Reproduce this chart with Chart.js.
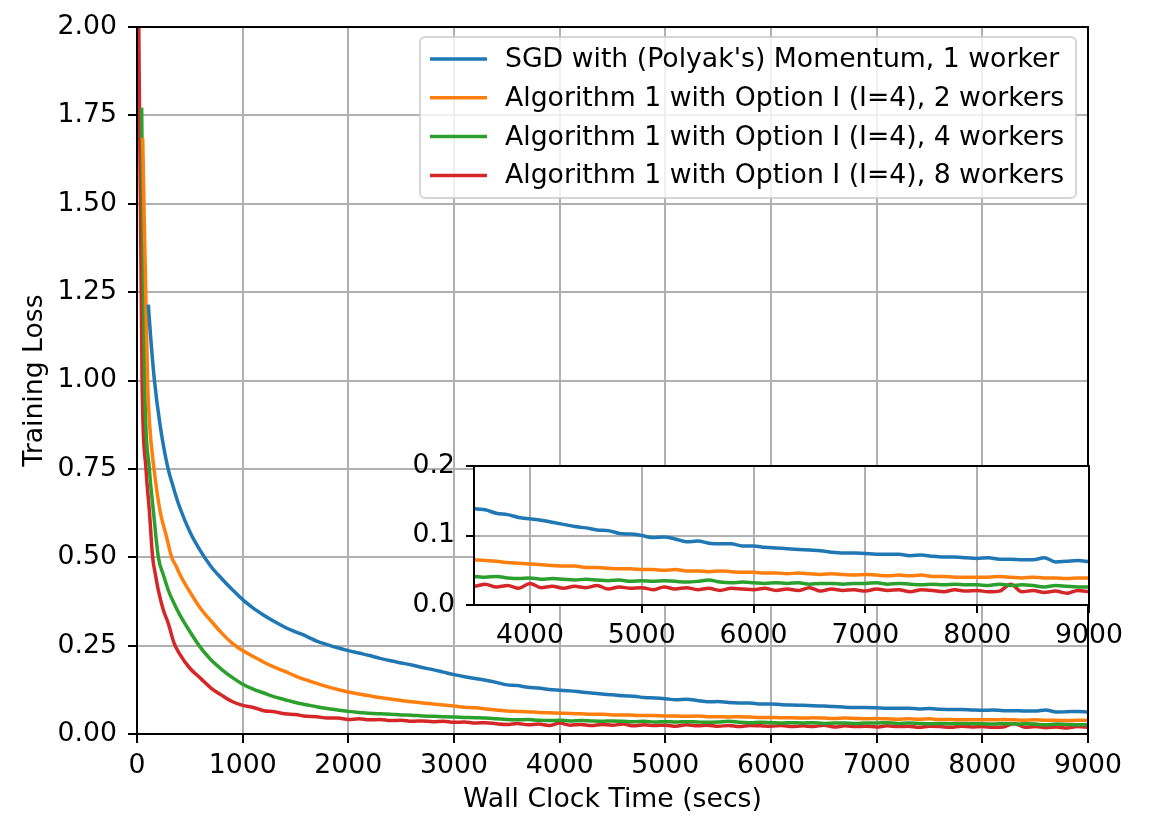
<!DOCTYPE html>
<html>
<head>
<meta charset="utf-8">
<script src="https://cdn.jsdelivr.net/npm/chart.js@4.4.1/dist/chart.umd.min.js"></script>
<style>
  html, body { margin: 0; padding: 0; background: #fff; }
  #wrap { position: relative; width: 1154px; height: 816px; }
  #wrap canvas { position: absolute; left: 0; top: 0; }
</style>
</head>
<body>
<div id="wrap">
  <canvas id="mainChart" width="1154" height="816"></canvas>
  <canvas id="insetChart" width="1154" height="816"></canvas>
</div>
<script>
// series names and colours
var seriesLabels = [
    "SGD with (Polyak's) Momentum, 1 worker",
    "Algorithm 1 with Option I (I=4), 2 workers",
    "Algorithm 1 with Option I (I=4), 4 workers",
    "Algorithm 1 with Option I (I=4), 8 workers"
];
var seriesColors = ['#1f77b4', '#ff7f0e', '#2ca02c', '#d62728'];

// tick labels
var xTicks = [0, 1000, 2000, 3000, 4000, 5000, 6000, 7000, 8000, 9000];
var yTicks = [0, 0.25, 0.5, 0.75, 1.0, 1.25, 1.5, 1.75, 2.0];
var insetXTicks = [4000, 5000, 6000, 7000, 8000, 9000];
var insetYTicks = [0, 0.1, 0.2];

// first seconds of each run (own time stamps)
var blueHeadT   = [107, 130, 165, 218, 287, 350];
var blueHeadL   = [1.215, 1.12, 1.00, 0.875, 0.760, 0.692];
var orangeHeadT = [54, 100, 117, 161, 218, 281, 328, 370];
var orangeHeadL = [1.687, 1.00, 0.885, 0.750, 0.631, 0.556, 0.500, 0.475];
var greenHeadT  = [44, 72, 117, 155, 202, 250, 297, 350];
var greenHeadL  = [1.772, 1.00, 0.750, 0.631, 0.500, 0.450, 0.406, 0.370];
var redHeadT    = [10, 48, 85, 117, 148, 175, 202, 250, 297, 350];
var redHeadL    = [2.25, 1.00, 0.750, 0.631, 0.500, 0.450, 0.406, 0.350, 0.312, 0.258];

// shared wall clock time after the start
var time = [
    400, 500, 600, 700, 800, 900, 1000, 1100, 1200, 1300,
    1400, 1500, 1600, 1700, 1800, 1900, 2000, 2100, 2200, 2300,
    2400, 2500, 2600, 2700, 2800, 2900, 3000, 3100, 3200, 3300,
    3400, 3500, 3600, 3700, 3800, 3900, 4000, 4100, 4200, 4300,
    4400, 4500, 4600, 4700, 4800, 4900, 5000, 5100, 5200, 5300,
    5400, 5500, 5600, 5700, 5800, 5900, 6000, 6100, 6200, 6300,
    6400, 6500, 6600, 6700, 6800, 6900, 7000, 7100, 7200, 7300,
    7400, 7500, 7600, 7700, 7800, 7900, 8000, 8100, 8200, 8300,
    8400, 8500, 8600, 8700, 8800, 8900, 9000
];

var blueLoss = [
    0.645, 0.572, 0.518, 0.474, 0.440, 0.409, 0.380, 0.356, 0.336, 0.318,
    0.302, 0.289, 0.277, 0.263, 0.253, 0.244, 0.236, 0.229, 0.222, 0.214,
    0.207, 0.201, 0.195, 0.188, 0.182, 0.175, 0.168, 0.162, 0.157, 0.152,
    0.146, 0.139, 0.137, 0.132, 0.130, 0.126, 0.124, 0.122, 0.119, 0.116,
    0.113, 0.111, 0.108, 0.107, 0.103, 0.102, 0.100, 0.097, 0.098, 0.095,
    0.091, 0.092, 0.089, 0.088, 0.088, 0.085, 0.085, 0.083, 0.082, 0.081,
    0.080, 0.079, 0.078, 0.076, 0.075, 0.075, 0.074, 0.073, 0.073, 0.073,
    0.071, 0.072, 0.070, 0.069, 0.069, 0.068, 0.067, 0.068, 0.066, 0.066,
    0.065, 0.065, 0.068, 0.062, 0.063, 0.064, 0.062
];
var orangeLoss = [
    0.455, 0.402, 0.356, 0.320, 0.286, 0.257, 0.236, 0.219, 0.203, 0.189,
    0.177, 0.164, 0.153, 0.143, 0.134, 0.126, 0.119, 0.113, 0.108, 0.103,
    0.099, 0.095, 0.091, 0.088, 0.085, 0.082, 0.079, 0.076, 0.074, 0.071,
    0.068, 0.065, 0.064, 0.063, 0.061, 0.060, 0.059, 0.058, 0.057, 0.056,
    0.056, 0.054, 0.054, 0.053, 0.052, 0.052, 0.051, 0.051, 0.050, 0.051,
    0.049, 0.049, 0.048, 0.049, 0.048, 0.047, 0.047, 0.046, 0.046, 0.045,
    0.046, 0.045, 0.044, 0.045, 0.044, 0.043, 0.044, 0.043, 0.042, 0.043,
    0.042, 0.043, 0.041, 0.041, 0.040, 0.040, 0.040, 0.040, 0.041, 0.040,
    0.039, 0.040, 0.039, 0.039, 0.038, 0.039, 0.039
];
var greenLoss = [
    0.340, 0.290, 0.245, 0.210, 0.183, 0.160, 0.141, 0.127, 0.116, 0.105,
    0.097, 0.089, 0.083, 0.077, 0.072, 0.068, 0.064, 0.061, 0.059, 0.057,
    0.056, 0.054, 0.053, 0.051, 0.050, 0.049, 0.048, 0.047, 0.046, 0.045,
    0.043, 0.041, 0.040, 0.041, 0.039, 0.038, 0.039, 0.037, 0.038, 0.037,
    0.036, 0.037, 0.036, 0.035, 0.036, 0.034, 0.035, 0.034, 0.035, 0.034,
    0.033, 0.034, 0.036, 0.033, 0.032, 0.033, 0.032, 0.031, 0.032, 0.031,
    0.032, 0.030, 0.031, 0.031, 0.030, 0.031, 0.031, 0.032, 0.030, 0.031,
    0.030, 0.029, 0.030, 0.029, 0.030, 0.029, 0.029, 0.028, 0.030, 0.028,
    0.029, 0.028, 0.026, 0.028, 0.027, 0.026, 0.026
];
var redLoss = [
    0.228, 0.186, 0.158, 0.130, 0.110, 0.092, 0.081, 0.075, 0.066, 0.063,
    0.057, 0.055, 0.050, 0.049, 0.045, 0.045, 0.041, 0.043, 0.040, 0.041,
    0.038, 0.039, 0.036, 0.037, 0.035, 0.036, 0.033, 0.034, 0.031, 0.032,
    0.029, 0.027, 0.030, 0.026, 0.028, 0.024, 0.031, 0.025, 0.027, 0.024,
    0.027, 0.025, 0.028, 0.023, 0.026, 0.024, 0.025, 0.022, 0.026, 0.023,
    0.025, 0.022, 0.024, 0.021, 0.024, 0.023, 0.022, 0.024, 0.021, 0.023,
    0.021, 0.025, 0.020, 0.023, 0.021, 0.022, 0.020, 0.023, 0.021, 0.022,
    0.019, 0.022, 0.021, 0.019, 0.022, 0.020, 0.021, 0.019, 0.020, 0.030,
    0.019, 0.021, 0.018, 0.020, 0.017, 0.021, 0.019
];

Chart.defaults.font.family = "'DejaVu Sans', sans-serif";
Chart.defaults.font.size = 26.7;
Chart.defaults.color = '#000';

function points(headT, headL, tail) {
    var p = headT.map(function(t, i) { return {x: t, y: headL[i]}; });
    return p.concat(time.map(function(t, i) { return {x: t, y: tail[i]}; }));
}

function makeDatasets() {
    var heads = [[blueHeadT, blueHeadL, blueLoss], [orangeHeadT, orangeHeadL, orangeLoss],
                 [greenHeadT, greenHeadL, greenLoss], [redHeadT, redHeadL, redLoss]];
    return heads.map(function(h, i) {
        return {
            label: seriesLabels[i],
            data: points(h[0], h[1], h[2]),
            borderColor: seriesColors[i],
            backgroundColor: seriesColors[i],
            borderWidth: 3.5,
            pointRadius: 0,
            fill: false,
            cubicInterpolationMode: 'monotone',
            clip: 0
        };
    });
}

// black box round the plot area
var framePlugin = {
    id: 'frame',
    afterDatasetsDraw: function(chart) {
        var a = chart.chartArea, ctx = chart.ctx;
        ctx.save();
        ctx.strokeStyle = '#000';
        ctx.lineWidth = 2;
        ctx.strokeRect(a.left, a.top, a.right - a.left, a.bottom - a.top);
        ctx.restore();
    }
};

// matplotlib style legend, upper right
var legendPlugin = {
    id: 'boxLegend',
    afterDraw: function(chart) {
        var ctx = chart.ctx;
        var x0 = 420, y0 = 37, w = 656, h = 161, r = 5;
        ctx.save();
        ctx.beginPath();
        ctx.moveTo(x0 + r, y0);
        ctx.arcTo(x0 + w, y0, x0 + w, y0 + h, r);
        ctx.arcTo(x0 + w, y0 + h, x0, y0 + h, r);
        ctx.arcTo(x0, y0 + h, x0, y0, r);
        ctx.arcTo(x0, y0, x0 + w, y0, r);
        ctx.closePath();
        ctx.fillStyle = 'rgba(255,255,255,0.8)';
        ctx.fill();
        ctx.strokeStyle = 'rgba(204,204,204,0.8)';
        ctx.lineWidth = 2;
        ctx.stroke();
        ctx.font = "26.7px 'DejaVu Sans'";
        ctx.textBaseline = 'middle';
        ctx.textAlign = 'left';
        chart.data.datasets.forEach(function(ds, i) {
            var y = 59 + i * 38.8;
            ctx.strokeStyle = ds.borderColor;
            ctx.lineWidth = 3.5;
            ctx.beginPath();
            ctx.moveTo(430, y);
            ctx.lineTo(487, y);
            ctx.stroke();
            ctx.fillStyle = '#000';
            ctx.fillText(ds.label, 505, y + 1);
        });
        ctx.restore();
    }
};

// white face behind the inset
var insetFacePlugin = {
    id: 'insetFace',
    beforeDraw: function(chart) {
        var a = chart.chartArea, ctx = chart.ctx;
        ctx.save();
        ctx.fillStyle = '#fff';
        ctx.fillRect(a.left, a.top, a.right - a.left, a.bottom - a.top);
        ctx.restore();
    }
};

var gridStyle = { color: '#b0b0b0', lineWidth: 2, tickColor: '#000', tickLength: 9, tickWidth: 2 };

//main
var ctxM = document.getElementById('mainChart').getContext('2d');
var mainChart = new Chart(ctxM, {
    type: 'line',
    data: { datasets: makeDatasets() },
    plugins: [framePlugin, legendPlugin],
    options: {
        responsive: false,
        animation: false,
        devicePixelRatio: 1,
        events: [],
        layout: { padding: { left: 0, right: 66, top: 24, bottom: 0 } },
        plugins: { legend: { display: false }, tooltip: { enabled: false } },
        scales: {
            x: {
                type: 'linear', min: 0, max: 9000,
                afterBuildTicks: function(s) { s.ticks = xTicks.map(function(v) { return {value: v}; }); },
                afterFit: function(s) { s.height = 82; },
                grid: gridStyle,
                border: { display: false },
                ticks: { padding: 7, maxRotation: 0, autoSkip: false, callback: function(v) { return String(v); } },
                title: { display: true, text: 'Wall Clock Time (secs)', padding: { top: 0, bottom: 0 } }
            },
            y: {
                type: 'linear', min: 0, max: 2,
                afterBuildTicks: function(s) { s.ticks = yTicks.map(function(v) { return {value: v}; }); },
                afterFit: function(s) { s.width = 137; },
                grid: gridStyle,
                border: { display: false },
                ticks: { padding: 11, autoSkip: false, callback: function(v) { return v.toFixed(2); } },
                title: { display: true, text: 'Training Loss', padding: { top: 19, bottom: 0 } }
            }
        }
    }
});

//inset
var ctxI = document.getElementById('insetChart').getContext('2d');
var insetChart = new Chart(ctxI, {
    type: 'line',
    data: { datasets: makeDatasets() },
    plugins: [insetFacePlugin, framePlugin],
    options: {
        responsive: false,
        animation: false,
        devicePixelRatio: 1,
        events: [],
        layout: { padding: { left: 0, right: 65, top: 466, bottom: 171 } },
        plugins: { legend: { display: false }, tooltip: { enabled: false } },
        scales: {
            x: {
                type: 'linear', min: 3500, max: 9000,
                afterBuildTicks: function(s) { s.ticks = insetXTicks.map(function(v) { return {value: v}; }); },
                afterFit: function(s) { s.height = 40; },
                grid: { color: '#b0b0b0', lineWidth: 2, tickColor: '#000', tickLength: 8, tickWidth: 2 },
                border: { display: false },
                ticks: { padding: 7, maxRotation: 0, autoSkip: false, callback: function(v) { return String(v); } }
            },
            y: {
                type: 'linear', min: 0, max: 0.2,
                afterBuildTicks: function(s) { s.ticks = insetYTicks.map(function(v) { return {value: v}; }); },
                afterFit: function(s) { s.width = 474; },
                grid: { color: '#b0b0b0', lineWidth: 2, tickColor: '#000', tickLength: 8, tickWidth: 2 },
                border: { display: false },
                ticks: { padding: 11, autoSkip: false, callback: function(v) { return v.toFixed(1); } }
            }
        }
    }
});
</script>
</body>
</html>
